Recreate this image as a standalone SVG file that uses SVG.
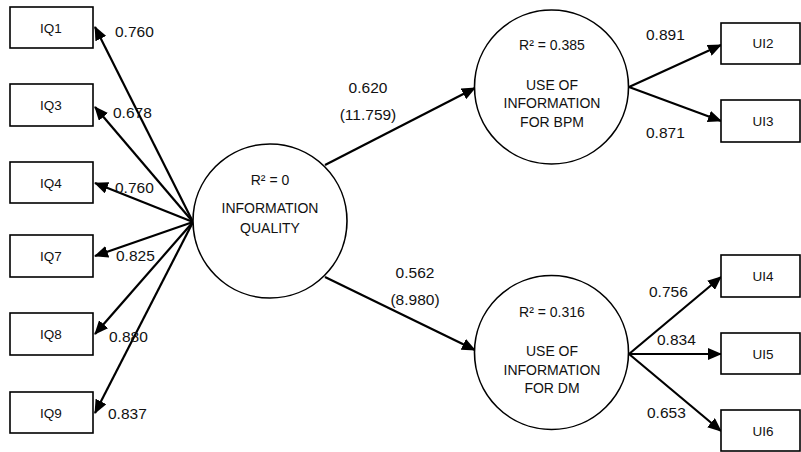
<svg xmlns="http://www.w3.org/2000/svg" width="801" height="452" viewBox="0 0 801 452">
<style>
  .box{fill:#fff;stroke:#000;stroke-width:1.6}
  .lv{fill:#fff;stroke:#000;stroke-width:1.6}
  .lbl{font-family:"Liberation Sans",Arial,sans-serif;font-size:13.5px;fill:#111;text-anchor:middle}
  .ct{font-family:"Liberation Sans",Arial,sans-serif;font-size:14px;fill:#111;text-anchor:middle}
  .num{font-family:"Liberation Sans",Arial,sans-serif;font-size:15.5px;fill:#111}
  .mid{text-anchor:middle}
  .ar{stroke:#000;stroke-width:2.2;fill:none;marker-end:url(#ah)}
</style>
<defs>
  <marker id="ah" markerUnits="userSpaceOnUse" markerWidth="14" markerHeight="12" refX="13" refY="6" orient="auto">
    <path d="M0,0 L14,6 L0,12 z" fill="#000"/>
  </marker>
</defs>
<rect width="801" height="452" fill="#fff"/>

<g id="connectors">
  <line class="ar" x1="193" y1="222" x2="95" y2="27"/>
  <line class="ar" x1="193" y1="222" x2="95" y2="107"/>
  <line class="ar" x1="193" y1="222" x2="95" y2="183"/>
  <line class="ar" x1="193" y1="222" x2="95" y2="256"/>
  <line class="ar" x1="193" y1="222" x2="95" y2="334"/>
  <line class="ar" x1="193" y1="222" x2="95" y2="413"/>
  <line class="ar" x1="325" y1="165" x2="475" y2="88"/>
  <line class="ar" x1="325" y1="277" x2="475" y2="350"/>
  <line class="ar" x1="629" y1="87" x2="721" y2="45"/>
  <line class="ar" x1="629" y1="87" x2="721" y2="121"/>
  <line class="ar" x1="629" y1="354" x2="721" y2="277"/>
  <line class="ar" x1="629" y1="354" x2="721" y2="354"/>
  <line class="ar" x1="629" y1="354" x2="721" y2="431"/>
</g>

<g id="labels">
  <text class="num" x="115" y="37">0.760</text>
  <text class="num" x="113" y="118">0.678</text>
  <text class="num" x="115" y="193">0.760</text>
  <text class="num" x="116" y="261">0.825</text>
  <text class="num" x="109" y="342">0.880</text>
  <text class="num" x="108" y="419">0.837</text>
  <text class="num mid" x="368" y="93">0.620</text>
  <text class="num mid" x="368" y="120">(11.759)</text>
  <text class="num mid" x="415" y="278">0.562</text>
  <text class="num mid" x="415" y="305">(8.980)</text>
  <text class="num" x="646" y="40">0.891</text>
  <text class="num" x="646" y="138">0.871</text>
  <text class="num" x="649" y="297">0.756</text>
  <text class="num" x="657" y="345">0.834</text>
  <text class="num" x="647" y="418">0.653</text>
</g>

<g id="IQ1"><rect class="box" x="10" y="7" width="83" height="41"/><text class="lbl" x="51" y="33">IQ1</text></g>
<g id="IQ3"><rect class="box" x="10" y="84" width="83" height="42"/><text class="lbl" x="51" y="110">IQ3</text></g>
<g id="IQ4"><rect class="box" x="10" y="162" width="83" height="41"/><text class="lbl" x="51" y="188">IQ4</text></g>
<g id="IQ7"><rect class="box" x="10" y="235" width="83" height="42"/><text class="lbl" x="51" y="261">IQ7</text></g>
<g id="IQ8"><rect class="box" x="10" y="313" width="83" height="42"/><text class="lbl" x="51" y="339">IQ8</text></g>
<g id="IQ9"><rect class="box" x="10" y="392" width="83" height="41"/><text class="lbl" x="51" y="418">IQ9</text></g>

<g id="UI2"><rect class="box" x="721" y="23" width="79" height="41"/><text class="lbl" x="763" y="48">UI2</text></g>
<g id="UI3"><rect class="box" x="721" y="100" width="79" height="42"/><text class="lbl" x="763" y="126">UI3</text></g>
<g id="UI4"><rect class="box" x="721" y="255" width="79" height="42"/><text class="lbl" x="763" y="281">UI4</text></g>
<g id="UI5"><rect class="box" x="721" y="333" width="79" height="41"/><text class="lbl" x="763" y="359">UI5</text></g>
<g id="UI6"><rect class="box" x="721" y="410" width="79" height="41"/><text class="lbl" x="763" y="436">UI6</text></g>

<g id="IQ">
  <circle class="lv" cx="270" cy="221" r="77"/>
  <text class="ct" x="270" y="185">R² = 0</text>
  <text class="ct" x="270" y="213">INFORMATION</text>
  <text class="ct" x="270" y="233">QUALITY</text>
</g>
<g id="BPM">
  <circle class="lv" cx="551.5" cy="87" r="77"/>
  <text class="ct" x="552" y="50">R² = 0.385</text>
  <text class="ct" x="552" y="90">USE OF</text>
  <text class="ct" x="552" y="108">INFORMATION</text>
  <text class="ct" x="552" y="127">FOR BPM</text>
</g>
<g id="DM">
  <circle class="lv" cx="551.5" cy="352.5" r="77"/>
  <text class="ct" x="552" y="317">R² = 0.316</text>
  <text class="ct" x="552" y="356">USE OF</text>
  <text class="ct" x="552" y="375">INFORMATION</text>
  <text class="ct" x="552" y="393">FOR DM</text>
</g>
</svg>
